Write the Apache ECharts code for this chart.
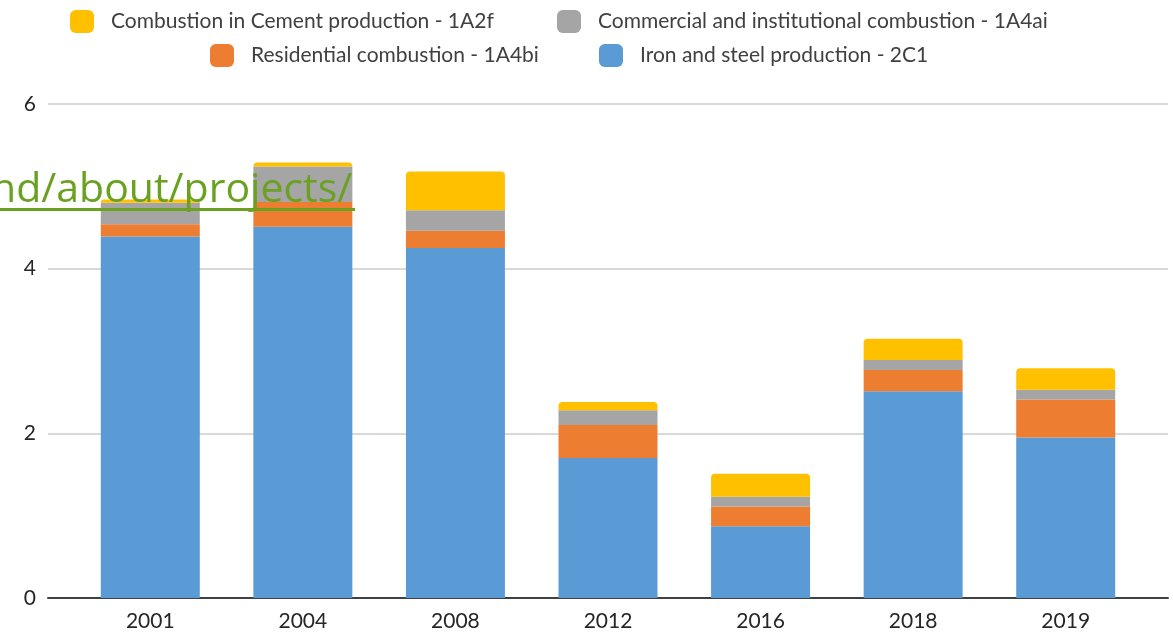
<!DOCTYPE html>
<html>
<head>
<meta charset="utf-8">
<script src="https://cdn.jsdelivr.net/npm/echarts@6/dist/echarts.min.js"></script>
<style>html,body{margin:0;padding:0;background:#fff}#c{width:1173px;height:636px}</style>
</head>
<body>
<div id="c"></div>
<script>
const categories = ['2001','2004','2008','2012','2016','2018','2019'];
const ironSteel = [4.39, 4.51, 4.25, 1.70, 0.87, 2.51, 1.95];
const residential = [0.15, 0.30, 0.21, 0.40, 0.24, 0.26, 0.46];
const commercial = [0.26, 0.43, 0.25, 0.18, 0.12, 0.12, 0.12];
const cement = [0.04, 0.05, 0.47, 0.10, 0.28, 0.26, 0.26];
const yTicks = [0, 2, 4, 6];

const names = {
  cement: 'Combustion in Cement production - 1A2f',
  commercial: 'Commercial and institutional combustion - 1A4ai',
  residential: 'Residential combustion - 1A4bi',
  iron: 'Iron and steel production - 2C1'
};
const colors = {iron:'#5b9bd5', residential:'#ed7d31', commercial:'#a5a5a5', cement:'#ffc000'};
const font = 'Lato';
const chart = echarts.init(document.getElementById('c'), null, {renderer:'canvas'});

function bar(key, data, top){
  return {
    name: names[key], type:'bar', stack:'total', xAxisIndex:1, yAxisIndex:1,
    data: data, barWidth: 99,
    itemStyle:{color: colors[key], borderRadius: top ? [4,4,0,0] : 0},
    emphasis:{disabled:true}
  };
}
function legend(name, left, top){
  return {
    left:left, top:top, padding:0, itemWidth:24, itemHeight:23, icon:'roundRect',
    textStyle:{color:'#404040', fontSize:21, fontFamily:font, padding:[0,0,0,12]},
    selectedMode:false, data:[name]
  };
}
chart.setOption({
  animation:false,
  grid:[
    {left:48, right:5, top:104, bottom:38},
    {left:74, right:31, top:104, bottom:38}
  ],
  legend:[
    legend(names.cement, 70, 10),
    legend(names.commercial, 557, 10),
    legend(names.residential, 210, 44),
    legend(names.iron, 599, 44)
  ],
  xAxis:[
    {type:'category', gridIndex:0, data:categories, axisLine:{lineStyle:{color:'#404040', width:2}}, axisTick:{show:false}, axisLabel:{show:false}},
    {type:'category', gridIndex:1, data:categories, axisLine:{show:false}, axisTick:{show:false},
     axisLabel:{color:'#262626', fontSize:21, fontFamily:font, margin:13}}
  ],
  yAxis:[
    {type:'value', gridIndex:0, min:yTicks[0], max:yTicks[yTicks.length-1], interval:2,
     axisLine:{show:false}, axisTick:{show:false},
     axisLabel:{color:'#262626', fontSize:21, fontFamily:font, margin:12},
     splitLine:{lineStyle:{color:'#d9d9d9', width:2}}},
    {type:'value', gridIndex:1, min:yTicks[0], max:yTicks[yTicks.length-1], interval:2, show:false, splitLine:{show:false}}
  ],
  series:[
    bar('iron', ironSteel, false),
    bar('residential', residential, false),
    bar('commercial', commercial, false),
    bar('cement', cement, true)
  ],
  graphic:[
    {type:'text', left:-9, top:170, z:100, style:{text:'nd/about/projects/', fill:'#6aa121', font:'41px "Open Sans"'}},
    {type:'rect', left:0, top:208, z:100, shape:{width:355, height:3}, style:{fill:'#6aa121'}}
  ]
});
</script>
</body>
</html>
